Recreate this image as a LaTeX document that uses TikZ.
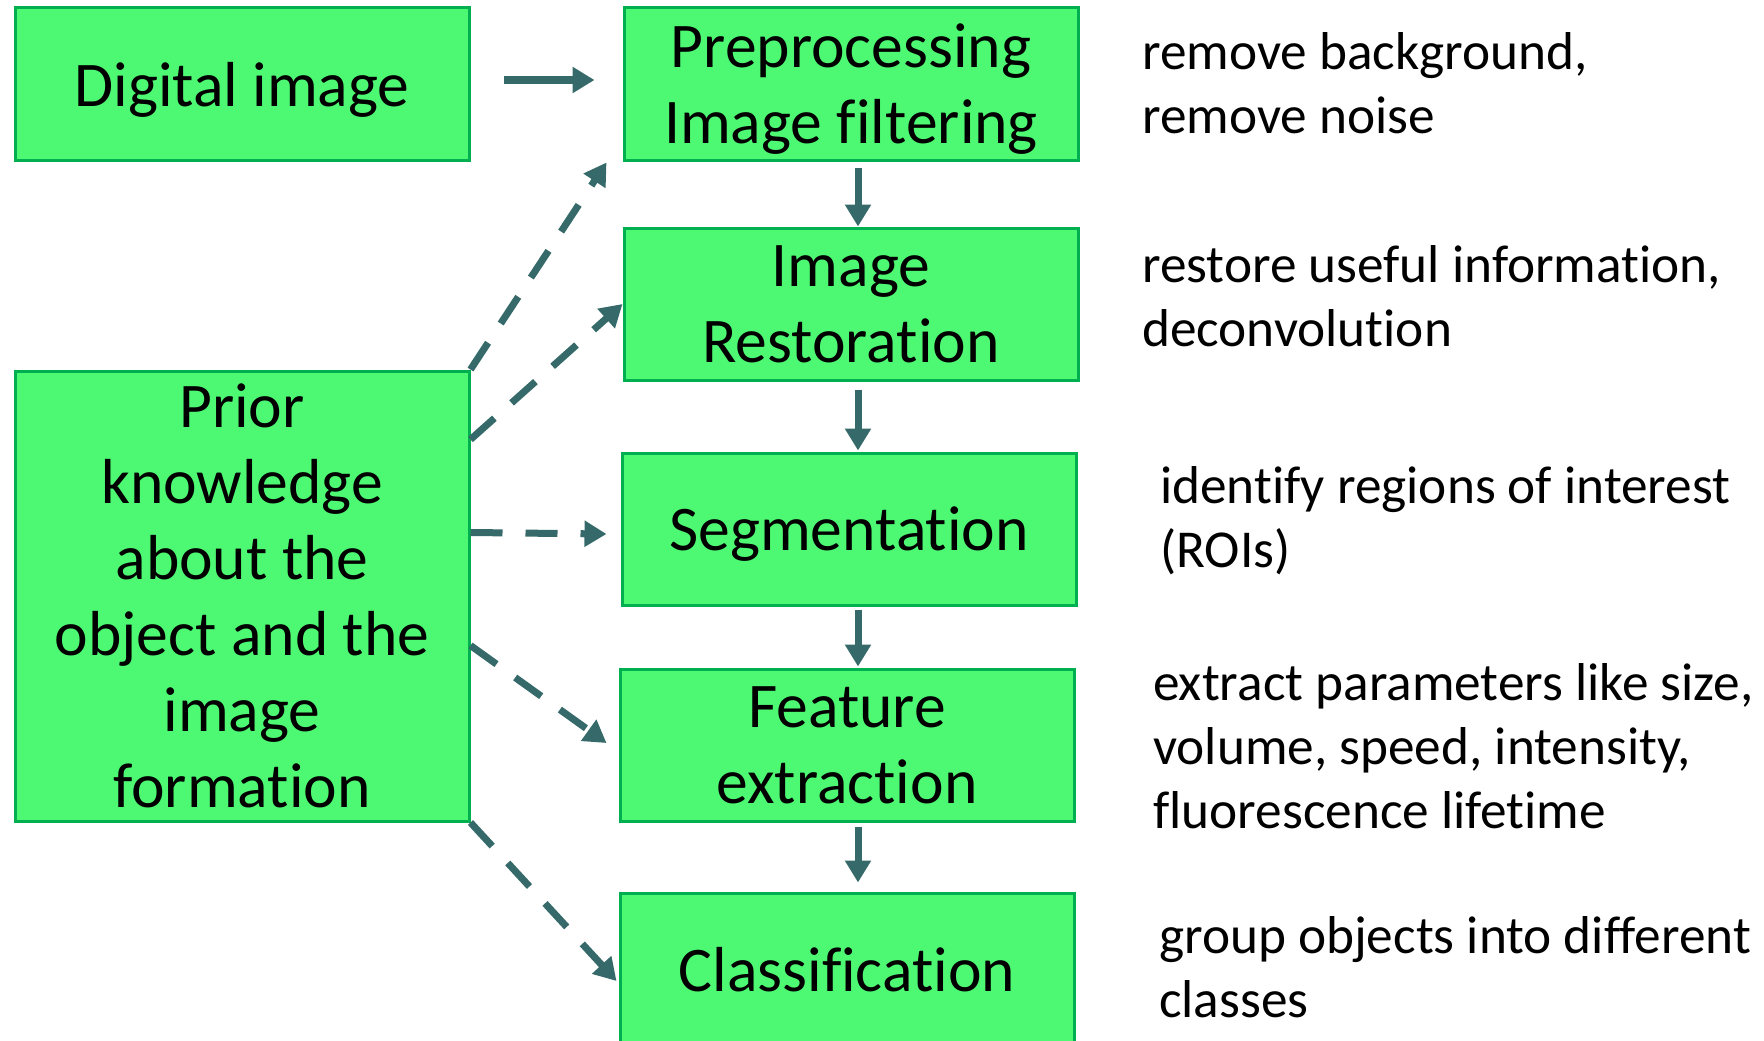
\documentclass[tikz,border=0pt]{standalone}
\usepackage{fontspec}
\setmainfont{Carlito}[Ligatures={NoCommon}]
\usetikzlibrary{arrows.meta,calc}
\definecolor{boxfill}{HTML}{4DF973}
\definecolor{boxline}{HTML}{00B050}
\definecolor{link}{HTML}{366A6A}
\begin{document}
\begin{tikzpicture}[x=1pt,y=-1pt,
  stage/.style={draw=boxline, fill=boxfill, line width=3pt,
    minimum width=454pt, minimum height=152pt, inner sep=0pt,
    text depth=0pt, align=center, font=\fontsize{63.6}{76}\selectfont},
  low/.style={text depth=-5pt},
  note/.style={anchor=west, align=left, inner sep=0pt,
    font=\fontsize{53.3}{64}\selectfont},
  flow/.style={draw=link, line width=7pt,
    -{Triangle[length=22pt,width=25pt]}},
  hint/.style={flow, dash pattern=on 32pt off 23pt}]

\useasboundingbox (0,0) rectangle (1764,1041);
\fill[white] (0,0) rectangle (1764,1041);

% processing chain
\node[stage] (dig) at (242,84)  {Digital image};
\node[stage] (pre) at (851,84)  {Preprocessing\\Image filtering};
\node[stage, low] (res) at (851,304) {Image\\Restoration};
\node[stage] (seg) at (849,529) {Segmentation};
\node[stage, low] (fea) at (847,745) {Feature\\extraction};
\node[stage] (cla) at (847,969) {Classification};
\node[stage, low, minimum height=450pt] (pri) at (242,596)
  {Prior\\knowledge\\about the\\object and the\\image\\formation};

% descriptions
\node[note] (n1) at (1142,83)  {remove background,\\remove noise};
\node[note] (n2) at (1142,296) {restore useful information,\\deconvolution};
\node[note] (n3) at (1160,521) {identify regions of interest\\(ROIs)};
\node[note] (n4) at (1153,746) {extract parameters like size,\\volume, speed, intensity,\\fluorescence lifetime};
\node[note] (n5) at (1159,967) {group objects into different\\classes};

% main flow
\coordinate (spine) at (858,0);
\draw[flow] ($(dig.east)+(33,-4)$) -- ($(pre.west)+(-28,-4)$);
\draw[flow] ($(pre.south -| spine)+(0,6)$) -- ($(res.north -| spine)+(0,0)$);
\draw[flow] ($(res.south -| spine)+(0,8)$) -- ($(seg.north -| spine)+(0,-1)$);
\draw[flow] ($(seg.south -| spine)+(0,3)$) -- ($(fea.north -| spine)+(0,-1)$);
\draw[flow] ($(fea.south -| spine)+(0,4)$) -- ($(cla.north -| spine)+(0,-9)$);

% prior knowledge feeds every stage
\draw[hint] (pri.north east) -- ($(pre.south west)+(-16,1)$);
\draw[hint] ($(pri.north east)+(0,70)$) -- (res.west);
\draw[hint] ($(pri.north east)+(0,163)$) -- ($(seg.west)+(-14,5)$);
\draw[hint] ($(pri.north east)+(0,276)$) -- ($(fea.west)+(-12,-2)$);
\draw[hint] (pri.south east) -- ($(cla.west)+(-2,12)$);
\end{tikzpicture}
\end{document}
